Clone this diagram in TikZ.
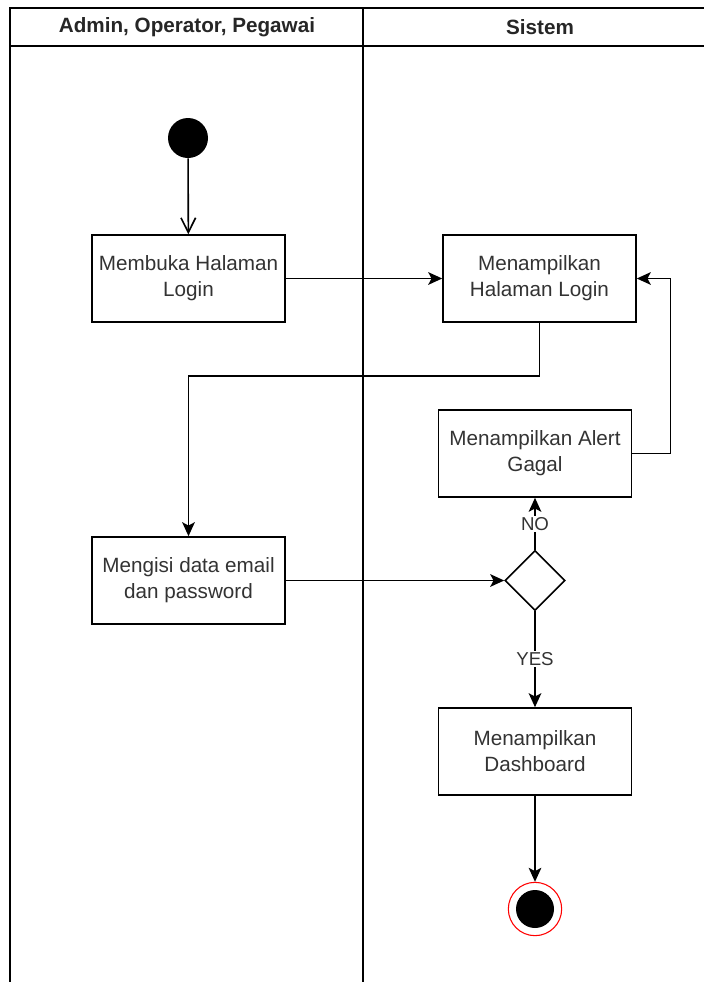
\documentclass[tikz,border=0pt]{standalone}
\usepackage{fontspec}
\setmainfont{Liberation Sans}
\usetikzlibrary{arrows.meta,shapes.geometric}
\definecolor{txt}{HTML}{333333}
\begin{document}
\begin{tikzpicture}[x=0.75pt,y=-0.75pt,
  lane/.style={line width=1.2pt,draw=black},
  head/.style={font=\fontsize{15.5}{19}\selectfont\bfseries,text=black!85},
  act/.style={draw=black,line width=1.2pt,fill=white,minimum width=144.75pt,minimum height=65.25pt,
    inner sep=0pt,align=center,text=txt,font=\fontsize{15.5}{19.5}\selectfont},
  decision/.style={diamond,draw=black,line width=1.2pt,fill=white,minimum width=45pt,minimum height=45pt,inner sep=0pt},
  flow/.style={line width=1.2pt,draw=black,-{Stealth[length=10.5pt,width=9.5pt,inset=2.5pt]}},
  guard/.style={fill=white,text=txt,font=\fontsize{14}{16}\selectfont,inner sep=1pt},
  initial/.style={circle,fill=black,minimum size=30pt,inner sep=0pt},
  final/.style={circle,draw=red,line width=0.8pt,fill=white,minimum size=40pt,inner sep=0pt}
]
\useasboundingbox (0,0) rectangle (704,982);
\fill[white] (0,0) rectangle (704,982);

% swimlane frame
\draw[lane] (10,982) -- (10,8) -- (704,8);
\draw[lane] (10,46) -- (704,46);
\draw[lane] (363,8) -- (363,982);
\node[head] (laneA) at (187,27) {Admin, Operator, Pegawai};
\node[head] (laneB) at (540,27) {Sistem};

% activities
\node[initial] (start) at (188,138) {};
\node[act] (open) at (188.5,278.5) {Membuka Halaman\\Login};
\node[act] (show) at (539.5,278.5) {Menampilkan\\Halaman Login};
\node[act] (alert) at (535,453.5) {Menampilkan Alert\\Gagal};
\node[act] (fill) at (188.5,580.5) {Mengisi data email\\dan password};
\node[decision] (check) at (535,580.5) {};
\node[act] (dash) at (535,751.5) {Menampilkan\\Dashboard};
\node[final] (end) at (535,909) {};
\node[circle,fill=black,minimum size=28.5pt,inner sep=0pt] (endcore) at (end) {};

% flows
\draw[line width=1.2pt,-{Straight Barb[length=11pt,width=11pt]}] (start) -- (open);
\draw[flow] (open) -- (show);
\draw[flow] (show.south) -- ++(0,53) -| (fill.north);
\draw[flow] (fill) -- (check);
\draw[flow] (check.north) -- node[guard] (no) {NO} (alert.south);
\draw[flow] (alert.east) -- ++(38,0) |- (show.east);
\draw[flow] (check.south) -- node[guard] (yes) {YES} (dash.north);
\draw[flow] (dash) -- (end);
\end{tikzpicture}
\end{document}
